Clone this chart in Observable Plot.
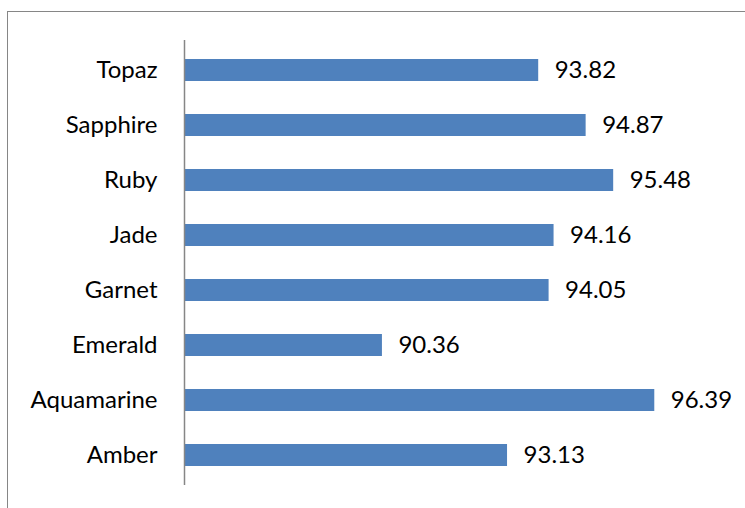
<!DOCTYPE html>
<html>
<head>
<meta charset="utf-8">
<script src="https://cdn.jsdelivr.net/npm/d3@7"></script>
<script src="https://cdn.jsdelivr.net/npm/@observablehq/plot@0.6"></script>
<style>
  html, body { margin: 0; padding: 0; background: #fff; }
  #wrap { position: relative; width: 745px; height: 508px; overflow: hidden; }
  #border { position: absolute; left: 7px; top: 11px; width: 800px; height: 600px;
            border: 1.5px solid #868686; pointer-events: none; box-sizing: border-box; }
</style>
</head>
<body>
<div id="wrap"><div id="border"></div></div>
<script>
const categories = ["Topaz", "Sapphire", "Ruby", "Jade", "Garnet", "Emerald", "Aquamarine", "Amber"];
const values = [93.82, 94.87, 95.48, 94.16, 94.05, 90.36, 96.39, 93.13];
const xDomain = [86, 98];

const data = categories.map((c, i) => ({category: c, value: values[i]}));
const font = "Lato, 'Open Sans', sans-serif";

const chart = Plot.plot({
  width: 745,
  height: 508,
  marginLeft: 185,
  marginRight: 18,
  marginTop: 40,
  marginBottom: 23,
  style: {background: "transparent", fontFamily: font, fontSize: "24px", color: "#000"},
  x: {domain: xDomain, axis: null},
  y: {domain: categories, paddingInner: 0.6, paddingOuter: 0.3, label: null, tickSize: 0, tickPadding: 28},
  marks: [
    Plot.barX(data, {x1: xDomain[0], x2: "value", y: "category", fill: "#4f81bd"}),
    Plot.ruleX([xDomain[0]], {stroke: "#868686", strokeWidth: 1.5, dx: -1}),
    Plot.text(data, {x: "value", y: "category", text: d => d.value.toFixed(2),
      textAnchor: "start", dx: 16, fill: "#000", fontSize: 24, fontFamily: font})
  ]
});
document.getElementById("wrap").prepend(chart);
</script>
</body>
</html>
